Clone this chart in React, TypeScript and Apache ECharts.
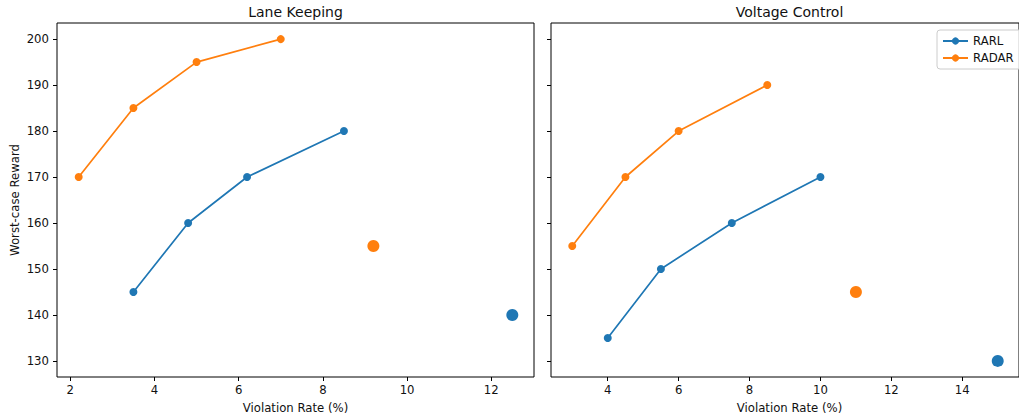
import React, { useEffect, useRef } from "react";
import * as echarts from "echarts";

const titles = ["Lane Keeping", "Voltage Control"];
const xTicksLeft = [2, 4, 6, 8, 10, 12];
const xTicksRight = [4, 6, 8, 10, 12, 14];
const yTicks = [130, 140, 150, 160, 170, 180, 190, 200];

const laneRARL: [number, number][] = [[3.5, 145], [4.8, 160], [6.2, 170], [8.5, 180]];
const laneRADAR: [number, number][] = [[2.2, 170], [3.5, 185], [5, 195], [7, 200]];
const laneRARLBase: [number, number][] = [[12.5, 140]];
const laneRADARBase: [number, number][] = [[9.2, 155]];

const voltRARL: [number, number][] = [[4, 135], [5.5, 150], [7.5, 160], [10, 170]];
const voltRADAR: [number, number][] = [[3, 155], [4.5, 170], [6, 180], [8.5, 190]];
const voltRARLBase: [number, number][] = [[15, 130]];
const voltRADARBase: [number, number][] = [[11, 145]];

const BLUE = "#1f77b4";
const ORANGE = "#ff7f0e";
const FONT = "DejaVu Sans";
const TXT = "#111";
const TICK_FS = 11.7;
const TITLE_FS = 14;

export default function App() {
  const ref = useRef<HTMLDivElement>(null);
  useEffect(() => {
    const chart = echarts.init(ref.current!, null, { renderer: "svg" });
    const xAxisBase = (min: number, max: number, ticks: number[], gi: number) => ({
      type: "value",
      gridIndex: gi,
      min,
      max,
      axisLine: { show: false },
      splitLine: { show: false },
      axisTick: { show: true, inside: false, length: 4, customValues: ticks, lineStyle: { color: "#000", width: 1 } },
      axisLabel: { show: true, customValues: ticks, margin: 7, fontSize: TICK_FS, fontFamily: FONT, color: TXT },
    });
    const yAxisBase = (gi: number, showLabel: boolean) => ({
      type: "value",
      gridIndex: gi,
      min: 126.5,
      max: 203.5,
      axisLine: { show: false },
      splitLine: { show: false },
      axisTick: { show: true, inside: false, length: 4, customValues: yTicks, lineStyle: { color: "#000", width: 1 } },
      axisLabel: { show: showLabel, customValues: yTicks, margin: 8, fontSize: TICK_FS, fontFamily: FONT, color: TXT },
    });
    const lineSeries = (name: string, data: [number, number][], color: string, gi: number) => ({
      type: "line",
      name,
      xAxisIndex: gi,
      yAxisIndex: gi,
      data,
      symbol: "circle",
      symbolSize: 8,
      showSymbol: true,
      itemStyle: { color, opacity: 1 },
      lineStyle: { color, width: 1.7 },
    });
    const ptSeries = (name: string, data: [number, number][], color: string, gi: number) => ({
      type: "scatter",
      name,
      xAxisIndex: gi,
      yAxisIndex: gi,
      data,
      symbol: "circle",
      symbolSize: 12,
      itemStyle: { color, opacity: 1 },
    });
    chart.setOption({
      animation: false,
      backgroundColor: "#fff",
      textStyle: { fontFamily: FONT },
      grid: [
        { left: 57, top: 23, width: 477, height: 354, show: true, borderColor: "#000", borderWidth: 1, backgroundColor: "transparent" },
        { left: 551, top: 23, width: 477, height: 354, show: true, borderColor: "#000", borderWidth: 1, backgroundColor: "transparent" },
      ],
      xAxis: [xAxisBase(1.685, 13.015, xTicksLeft, 0), xAxisBase(2.4, 15.6, xTicksRight, 1)],
      yAxis: [yAxisBase(0, true), yAxisBase(1, false)],
      legend: {
        data: ["RARL", "RADAR"],
        orient: "vertical",
        left: 937,
        top: 30,
        itemWidth: 25,
        itemHeight: 9,
        itemGap: 5,
        padding: [5, 10, 5, 5],
        borderColor: "#ccc",
        borderWidth: 1,
        borderRadius: 3,
        backgroundColor: "rgba(255,255,255,0.8)",
        textStyle: { fontSize: TICK_FS, fontFamily: FONT, color: TXT },
      },
      graphic: [
        { type: "text", x: 295.5, y: 12, style: { text: titles[0], fontSize: TITLE_FS, fontFamily: FONT, fill: TXT, textAlign: "center", textVerticalAlign: "middle" } },
        { type: "text", x: 789.5, y: 12, style: { text: titles[1], fontSize: TITLE_FS, fontFamily: FONT, fill: TXT, textAlign: "center", textVerticalAlign: "middle" } },
        { type: "text", x: 295.5, y: 408, style: { text: "Violation Rate (%)", fontSize: TICK_FS, fontFamily: FONT, fill: TXT, textAlign: "center", textVerticalAlign: "middle" } },
        { type: "text", x: 789.5, y: 408, style: { text: "Violation Rate (%)", fontSize: TICK_FS, fontFamily: FONT, fill: TXT, textAlign: "center", textVerticalAlign: "middle" } },
        { type: "text", x: 15, y: 200, rotation: Math.PI / 2, style: { text: "Worst-case Reward", fontSize: TICK_FS, fontFamily: FONT, fill: TXT, textAlign: "center", textVerticalAlign: "middle" } },
      ],
      series: [
        lineSeries("RARL", laneRARL, BLUE, 0),
        lineSeries("RADAR", laneRADAR, ORANGE, 0),
        ptSeries("RARL baseline", laneRARLBase, BLUE, 0),
        ptSeries("RADAR baseline", laneRADARBase, ORANGE, 0),
        lineSeries("RARL", voltRARL, BLUE, 1),
        lineSeries("RADAR", voltRADAR, ORANGE, 1),
        ptSeries("RARL baseline", voltRARLBase, BLUE, 1),
        ptSeries("RADAR baseline", voltRADARBase, ORANGE, 1),
      ],
    });
    return () => chart.dispose();
  }, []);
  return <div ref={ref} style={{ position: "absolute", left: 0, top: 0, width: 1019, height: 418 }} />;
}
